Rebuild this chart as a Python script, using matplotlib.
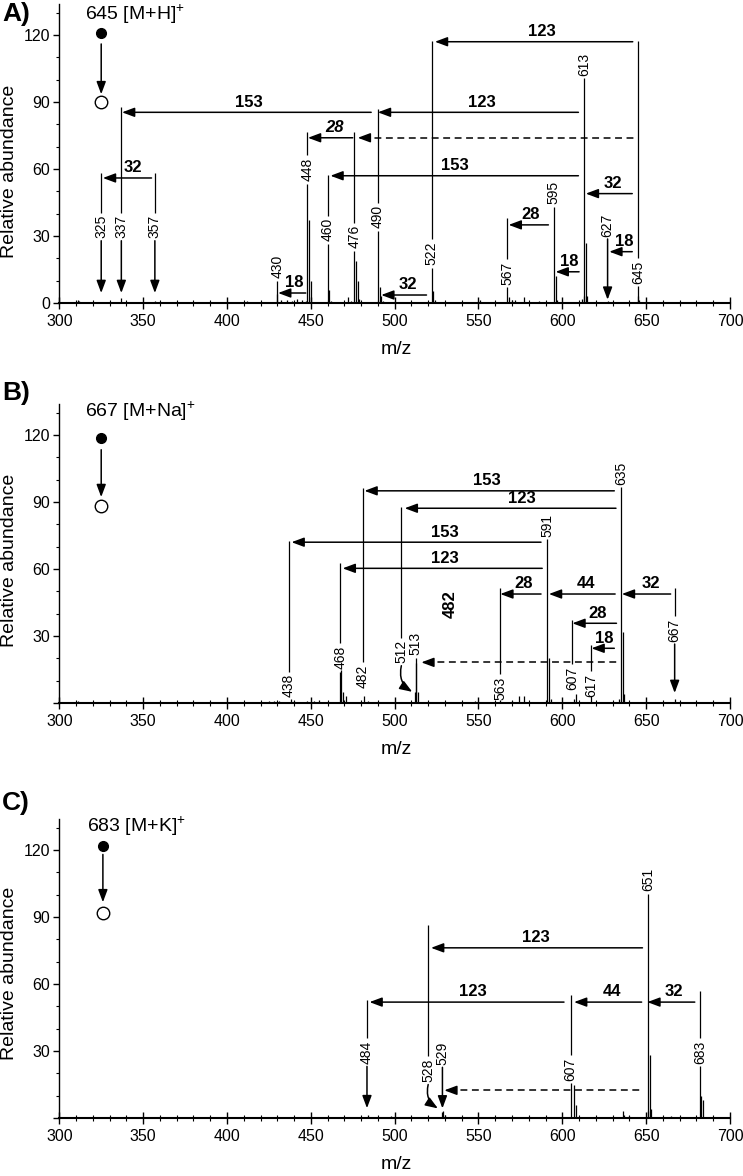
import matplotlib.pyplot as plt
from matplotlib.ticker import MultipleLocator

plt.rcParams['font.family'] = ['Liberation Sans', 'DejaVu Sans']
plt.rcParams['mathtext.default'] = 'regular'

NARROW = ['Liberation Sans Narrow', 'Liberation Sans', 'DejaVu Sans']

# ---------------- panel A : 645 [M+H]+ ----------------
a_title = '645 [M+H]$^{+}$'
a_peak_mz = [311, 312, 325, 337, 357, 369, 372, 385, 412, 416, 430, 432, 436, 439, 442, 445, 447,
             449, 450, 461, 462, 472, 474, 477, 478, 479, 491, 492, 493, 523, 524, 551, 568, 570,
             572, 577, 586, 596, 597, 612, 613, 614, 615, 627, 645, 646]
a_peak_ab = [1.5, 0.8, 0.6, 2.2, 0.8, 0.6, 0.5, 0.5, 0.8, 0.6, 4, 1.5, 1.5, 1, 2, 1.5, 1,
             37, 10, 6, 1, 2.5, 1, 19, 10, 2, 7, 3, 1, 5.5, 1.5, 1.2, 2.5, 1.5,
             1.5, 2.5, 1, 12, 1.5, 2, 3, 27, 3, 0.8, 3, 1.5]
# labelled ions: x position, text, label height, top of the line above, what is below
a_lab_x = [325, 337, 357, 430, 448, 460, 476, 490, 522, 567, 595, 613, 627, 645]
a_lab_txt = ['325', '337', '357', '430', '448', '460', '476', '490', '522', '567', '595', '613', '627', '645']
a_lab_y = [34.2, 34.2, 34.2, 16.2, 59.8, 32.8, 29.7, 38.7, 22.2, 13.5, 49.4, 107, 35, 13.9]
a_lab_top = [58.4, 87.6, 58.4, None, 76.4, 57.5, 76.4, 86.7, 117.3, 38.2, None, None, None, 117.3]
a_lab_low = ['arrow', 'arrow', 'arrow', 'line', 'line', 'line', 'line', 'line', 'line', 'line',
             'line', 'line', 'arrow', 'line']
a_lab_end = [4.5, 4.5, 4.5, 0, 0, 0, 0, 0, 0, 0, 0, 0, 1.5, 0]
# neutral losses: arrow start, arrow tip, height, text, text position, dashed
a_loss_from = [355, 486, 447, 475, 643, 609.6, 609.6, 642, 519, 591.7, 610, 641.7, 641.7]
a_loss_to = [326, 337.4, 430.5, 448.3, 478, 461.7, 490, 524, 492, 568, 596, 614, 628]
a_loss_y = [56, 85.4, 4.5, 74, 74, 57, 85.4, 117, 3.6, 35, 14, 49, 23]
a_loss_txt = ['32', '153', '18', '28', '', '153', '123', '123', '32', '28', '18', '32', '18']
a_loss_tx = [344, 413, 440, 464, 0, 536, 552, 588, 508, 581, 604, 630, 637]
a_loss_dash = [False, False, False, False, True, False, False, False, False, False, False, False, False]
a_curve = []
a_prec = (325, 121, 90, 116, 93.5)   # x, filled circle, open circle, arrow start, arrow tip
a_title_pos = (315.5, 129.4)

# ---------------- panel B : 667 [M+Na]+ ----------------
b_title = '667 [M+Na]$^{+}$'
b_peak_mz = [311, 425, 428, 431, 438, 440, 448, 452, 455, 468, 469, 471, 482, 484, 495, 512, 513,
             514, 548, 563, 570, 574, 577, 592, 593, 607, 608, 617, 634, 636, 637, 667]
b_peak_ab = [1, 0.8, 1, 0.8, 2, 1, 0.8, 1, 1.2, 15, 5, 3, 3, 1, 0.5, 5, 18,
             5, 1, 1.5, 0.8, 3, 3, 20, 2, 2, 4, 3, 2, 32, 4, 2]
b_lab_x = [437, 467.5, 481, 504, 512.5, 563, 591, 635, 667, 606, 617]
b_lab_txt = ['438', '468', '482', '512', '513', '563', '591', '635', '667', '607', '617']
b_lab_y = [7.8, 20.4, 11.9, 23, 26.6, 6.5, 79.7, 102.8, 32.7, 11, 8]
b_lab_top = [72.5, 62.7, 96.3, 87.9, None, 51.5, None, None, 51.5, 37.2, 26]
b_lab_low = ['', 'line', '', 'curve', 'line', '', 'line', 'line', 'arrow', '', '']
b_lab_end = [0, 0, 0, 0, 0, 0, 0, 0, 4.5, 0, 0]
b_loss_from = [587.3, 588, 631, 632, 587.3, 631.5, 664.6, 632.3, 631, 633]
b_loss_to = [438.5, 469, 482, 506, 563, 592, 635.5, 606, 617.4, 515.9]
b_loss_y = [72, 60.3, 95, 87.2, 48.8, 48.8, 48.8, 35.7, 24.5, 18.2]
b_loss_txt = ['153', '123', '153', '123', '28', '44', '32', '28', '18', '']
b_loss_tx = [530, 530, 555, 576, 577, 614, 653, 621, 625, 0]
b_loss_dash = [False, False, False, False, False, False, False, False, False, True]
b_curve = [(504, 16.7, 510.5, 5)]
b_prec = (325, 118.7, 88, 113.4, 92.2)
b_title_pos = (315.5, 130.4)

# ---------------- panel C : 683 [M+K]+ ----------------
c_title = '683 [M+K]$^{+}$'
c_peak_mz = [484, 498, 528, 529, 530, 607, 608, 620, 636, 637, 640, 651, 652, 653, 665, 683, 684]
c_peak_ab = [1.5, 1, 2.5, 3, 1.5, 15, 6, 0.5, 3, 1.5, 0.8, 3, 28, 4, 1, 10, 8]
c_lab_x = [483.5, 520, 528.5, 605, 651, 682]
c_lab_txt = ['484', '528', '529', '607', '651', '683']
c_lab_y = [29.4, 21.3, 29, 22, 106.6, 29.4]
c_lab_top = [53, 86.3, None, 55.2, None, 56.7]
c_lab_low = ['arrow', 'curve', 'arrow', 'line', 'line', 'line']
c_lab_end = [4.4, 0, 4.3, 0, 0, 0]
c_loss_from = [647.8, 601, 647.3, 679, 647.8]
c_loss_to = [521.7, 485, 607, 650.7, 529.6]
c_loss_y = [76.2, 51.9, 51.9, 51.9, 12.4]
c_loss_txt = ['123', '123', '44', '32', '']
c_loss_tx = [584, 546.5, 629.5, 666.5, 0]
c_loss_dash = [False, False, False, False, True]
c_curve = [(520, 15, 525.8, 4.3)]
c_prec = (326, 122, 91.6, 118, 96.6)
c_title_pos = (316.8, 130.6)

panels = [
    ('A)', a_title, a_title_pos, a_prec, a_peak_mz, a_peak_ab, a_lab_x, a_lab_txt, a_lab_y, a_lab_top,
     a_lab_low, a_lab_end, a_loss_from, a_loss_to, a_loss_y, a_loss_txt, a_loss_tx, a_loss_dash, a_curve),
    ('B)', b_title, b_title_pos, b_prec, b_peak_mz, b_peak_ab, b_lab_x, b_lab_txt, b_lab_y, b_lab_top,
     b_lab_low, b_lab_end, b_loss_from, b_loss_to, b_loss_y, b_loss_txt, b_loss_tx, b_loss_dash, b_curve),
    ('C)', c_title, c_title_pos, c_prec, c_peak_mz, c_peak_ab, c_lab_x, c_lab_txt, c_lab_y, c_lab_top,
     c_lab_low, c_lab_end, c_loss_from, c_loss_to, c_loss_y, c_loss_txt, c_loss_tx, c_loss_dash, c_curve),
]

GAP = 6.3   # space between a rotated label and its line
HEAD = '-|>,head_length=0.75,head_width=0.28'


def arrow(ax, x0, y0, x1, y1, conn='arc3'):
    ax.annotate('', xy=(x1, y1), xytext=(x0, y0),
                arrowprops=dict(arrowstyle=HEAD, color='black', lw=1.1, shrinkA=0, shrinkB=0,
                                mutation_scale=10, connectionstyle=conn))


fig = plt.figure(figsize=(7.43, 11.76), dpi=100)
bottoms = [0.7423, 0.4022, 0.0493]
ylab_pos = [0.44, 0.478, 0.483]
letter_y = [1 - 14 / 1176, 1 - 393 / 1176, 1 - 803 / 1176]

for k, p in enumerate(panels):
    (letter, title, tpos, prec, pk_mz, pk_ab, lx, ltxt, ly, ltop, llow, lend,
     lfrom, lto, lyy, ltx_txt, ltx, ldash, curves) = p
    ax = fig.add_axes([0.0798, bottoms[k], 0.9027, 0.2545])

    # spectrum
    ax.vlines(pk_mz, 0, pk_ab, color='black', lw=0.9)

    # labelled ions with their leader lines
    for x, t, y, top, low, end in zip(lx, ltxt, ly, ltop, llow, lend):
        ax.text(x, y, t, rotation=90, ha='center', va='center', fontsize=10, family=NARROW)
        if top is not None:
            ax.vlines(x, y + GAP, top, color='black', lw=0.9)
        if low == 'line':
            ax.vlines(x, 0, y - GAP, color='black', lw=0.9)
        elif low == 'arrow':
            arrow(ax, x, y - GAP, x, end)

    for x0, y0, x1, y1 in curves:
        arrow(ax, x0, y0, x1, y1, conn='arc3,rad=0.35')

    # neutral loss arrows
    for x0, x1, y, t, tx, dash in zip(lfrom, lto, lyy, ltx_txt, ltx, ldash):
        if dash:
            ax.hlines(y, x1 + 3, x0, color='black', lw=1.1, linestyles=(0, (4.5, 3)))
            arrow(ax, x1 + 4, y, x1, y)
        else:
            arrow(ax, x0, y, x1, y)
        if t:
            style = 'italic' if (letter == 'A)' and t == '28' and y > 70) else 'normal'
            ax.text(tx, y + 1.2, t, ha='center', va='bottom', fontsize=12,
                    fontweight='bold', fontstyle=style)

    if letter == 'B)':
        ax.text(533, 44.1, '482', rotation=90, ha='center', va='center', fontsize=12, fontweight='bold')

    # precursor symbol
    px, fy, oy, ay0, ay1 = prec
    ax.plot(px, fy, 'o', ms=7, color='black')
    ax.plot(px, oy, 'o', ms=9, mfc='white', mec='black', mew=1)
    arrow(ax, px, ay0, px, ay1)
    ax.text(tpos[0], tpos[1], title, fontsize=14, ha='left', va='center')

    # axes styling
    ax.set_xlim(300, 700)
    ax.set_ylim(0, 134)
    ax.xaxis.set_major_locator(MultipleLocator(50))
    ax.xaxis.set_minor_locator(MultipleLocator(10))
    ax.set_yticks([0, 30, 60, 90, 120])
    if letter == 'A)':
        ax.set_yticklabels(['0', '30', '60', '90', '120'])
    else:
        ax.set_yticklabels(['', '30', '60', '90', '120'])
    ax.yaxis.set_minor_locator(MultipleLocator(10))
    for s in ['top', 'right']:
        ax.spines[s].set_visible(False)
    ax.spines['bottom'].set_linewidth(1.5)
    ax.spines['left'].set_linewidth(1.0)
    ax.tick_params(axis='x', which='major', direction='inout', length=8, width=1, pad=4, labelsize=11.5)
    ax.tick_params(axis='x', which='minor', direction='inout', length=4.5, width=0.8)
    ax.tick_params(axis='y', which='major', direction='out', length=4.5, width=1, pad=2, labelsize=11.5)
    ax.tick_params(axis='y', which='minor', direction='out', length=2.5, width=0.8)
    ax.set_xlabel('m/z', fontsize=14)
    ax.xaxis.set_label_coords(0.503, -0.128)
    ax.set_ylabel('Relative abundance', fontsize=14)
    ax.yaxis.set_label_coords(-0.062, ylab_pos[k])

    fig.text(0.003, letter_y[k], letter, fontsize=19, fontweight='bold', ha='left', va='center')

fig.savefig('out.png', dpi=100)
